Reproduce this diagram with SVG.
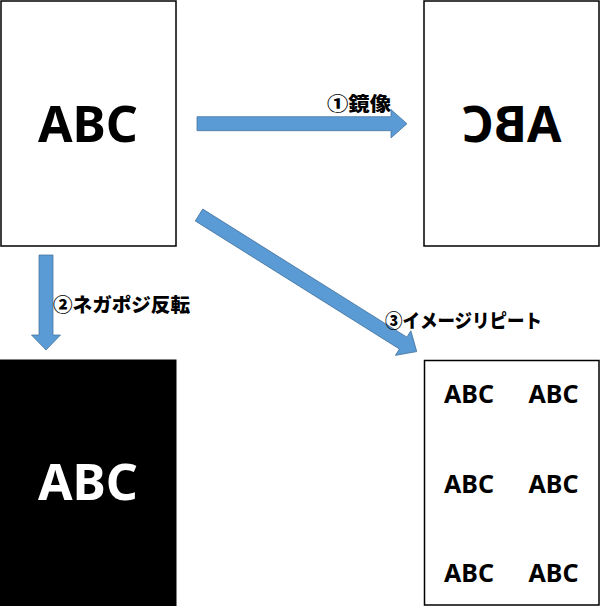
<svg xmlns="http://www.w3.org/2000/svg" width="600" height="606" viewBox="0 0 600 606">
<style>
.box{fill:#fff;stroke:#000;stroke-width:1.5}
.big{font-family:"Noto Sans","Liberation Sans",sans-serif;font-weight:bold;font-size:50px;text-anchor:middle}
.sm{font-family:"Noto Sans","Liberation Sans",sans-serif;font-weight:bold;font-size:25px;text-anchor:middle}
.lbl{font-family:"Noto Sans CJK JP","Noto Sans",sans-serif;font-weight:900;font-size:19px}
.arr{fill:#5B9BD5;stroke:#41719C;stroke-width:0.75}
</style>
<rect width="600" height="606" fill="#fff"/>
<g id="original">
<rect class="box" x="1" y="1" width="175" height="245"/>
<text class="big" x="88" y="142">ABC</text>
</g>
<g id="mirror">
<rect class="box" x="424" y="1" width="175" height="245"/>
<text class="big" x="511.5" y="142" transform="translate(1023,0) scale(-1,1)">ABC</text>
</g>
<g id="negative">
<rect x="0.5" y="360" width="175.5" height="246" fill="#000" stroke="#000" stroke-width="1"/>
<text class="big" x="88" y="500" fill="#fff">ABC</text>
</g>
<g id="repeat">
<rect class="box" x="424.5" y="360.5" width="174.5" height="244.5"/>
<text class="sm" x="469" y="402.5">ABC</text>
<text class="sm" x="553.5" y="402.5">ABC</text>
<text class="sm" x="469" y="492.5">ABC</text>
<text class="sm" x="553.5" y="492.5">ABC</text>
<text class="sm" x="469" y="581.5">ABC</text>
<text class="sm" x="553.5" y="581.5">ABC</text>
</g>
<g id="connectors">
<path class="arr" d="M197,116.7 H391 V109.5 L407,123.7 L391,137.9 V130.7 H197 Z"/>
<path class="arr" d="M39,255 H53 V335 H60.5 L46,350 L31.5,335 H39 Z"/>
<path class="arr" d="M0,-7 H241 V-14.5 L257,0 L241,14.5 V7 H0 Z" transform="translate(199,215) rotate(32.1)"/>
</g>
<g id="labels">
<text class="lbl" x="327" y="111" textLength="64" lengthAdjust="spacingAndGlyphs">①鏡像</text>
<text class="lbl" x="53" y="312" textLength="137" lengthAdjust="spacingAndGlyphs">②ネガポジ反転</text>
<text class="lbl" x="385" y="328" font-size="18" textLength="157" lengthAdjust="spacingAndGlyphs">③イメージリピート</text>
</g>
</svg>
